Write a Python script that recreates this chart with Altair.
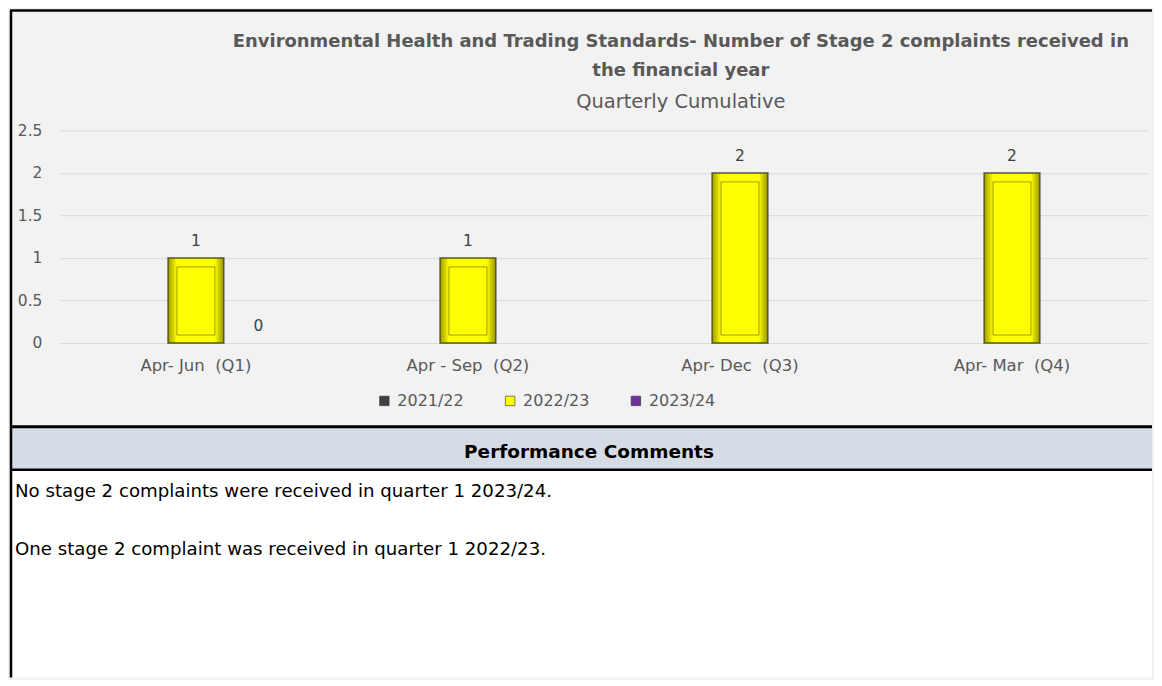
import altair as alt
import pandas as pd

# ---------------- data ----------------
quarters = ["Apr- Jun  (Q1)", "Apr - Sep  (Q2)", "Apr- Dec  (Q3)", "Apr- Mar  (Q4)"]
series = ["2021/22", "2022/23", "2023/24"]
values_2021_22 = [None, None, None, None]
values_2022_23 = [1, 1, 2, 2]
values_2023_24 = [0, None, None, None]
series_colors = ["#404040", "#ffff00", "#7030a0"]
y_ticks = [0, 0.5, 1, 1.5, 2, 2.5]

title_lines = [
    "Environmental Health and Trading Standards- Number of Stage 2 complaints received in",
    "the financial year",
]
subtitle = "Quarterly Cumulative"
comments_header = "Performance Comments"
comments = [
    "No stage 2 complaints were received in quarter 1 2023/24.",
    "One stage 2 complaint was received in quarter 1 2022/23.",
]

rows = []
for s, vals in zip(series, [values_2021_22, values_2022_23, values_2023_24]):
    for q, v in zip(quarters, vals):
        rows.append({"quarter": q, "series": s, "value": v})
df = pd.DataFrame(rows)

FONT = "DejaVu Sans"
GREY = "#595959"
W, H = 1090, 213
PX_PER_UNIT = H / 2.5

# ---------------- encodings ----------------
x_enc = alt.X(
    "quarter:N",
    sort=quarters,
    scale=alt.Scale(paddingInner=0, paddingOuter=0),
    axis=alt.Axis(
        title=None, labelAngle=0, ticks=False, domain=False, grid=False,
        labelFontSize=16.5, labelColor=GREY, labelFont=FONT, labelPadding=15,
        labelExpr="replace(datum.label, '  ', ' \u00a0')",
    ),
)
xoff_enc = alt.XOffset(
    "series:N", sort=series,
    scale=alt.Scale(domain=series, paddingInner=0.111, paddingOuter=0.728),
)
y_scale = alt.Scale(domain=[0, 2.5], nice=False, zero=True)
y_enc = alt.Y(
    "value:Q",
    scale=y_scale,
    axis=alt.Axis(
        title=None, values=y_ticks, format="~g", ticks=False, domain=False,
        gridColor="#d9d9d9", gridWidth=1, labelFontSize=15.5, labelColor=GREY,
        labelFont=FONT, labelPadding=18,
    ),
)
color_enc = alt.Color(
    "series:N",
    scale=alt.Scale(domain=series, range=series_colors),
    legend=alt.Legend(
        title=None, orient="none", legendX=317, legendY=263, direction="horizontal",
        symbolType="square", symbolSize=90, symbolStrokeColor="#333333",
        symbolStrokeWidth=0.6, labelFontSize=16, labelColor=GREY, labelFont=FONT,
        labelOffset=5, columnPadding=38,
    ),
)

base = alt.Chart(df)

outer_bar = base.transform_filter("datum.value > 0").mark_bar(
    stroke="rgba(0,0,0,0.65)", strokeWidth=1.5
).encode(x=x_enc, xOffset=xoff_enc, y=y_enc, color=color_enc)

shade = base.transform_filter("datum.value > 0").mark_bar(
    fill=alt.LinearGradient(
        gradient="linear", x1=0, x2=1, y1=0, y2=0,
        stops=[
            alt.GradientStop(color="rgba(90,90,0,0.6)", offset=0),
            alt.GradientStop(color="rgba(90,90,0,0.0)", offset=0.16),
            alt.GradientStop(color="rgba(90,90,0,0.0)", offset=0.84),
            alt.GradientStop(color="rgba(90,90,0,0.65)", offset=1),
        ],
    ),
    strokeWidth=0,
).encode(x=x_enc, xOffset=xoff_enc, y=y_enc)

# inner bevel face: inset from the bar's own top and baseline
inner_bar = base.transform_filter("datum.value > 0").transform_calculate(
    inner_top=f"datum.value - 9 / {PX_PER_UNIT}",
    inner_bottom=f"8 / {PX_PER_UNIT}",
).mark_bar(
    size=38, stroke="rgba(80,80,0,0.55)", strokeWidth=1,
).encode(
    x=x_enc, xOffset=xoff_enc,
    y=alt.Y("inner_top:Q", scale=y_scale),
    y2="inner_bottom:Q",
    color=color_enc,
)

labels = base.transform_filter("isValid(datum.value)").mark_text(
    font=FONT, fontSize=15.5, color="#404040", dy=-17, baseline="middle"
).encode(x=x_enc, xOffset=xoff_enc, y=y_enc, text=alt.Text("value:Q", format="~g"))

# ---------------- page furniture ----------------
one = alt.Data(values=[{}])


def txt(text, x, y, size, weight="normal", color=GREY, align="center"):
    return alt.Chart(one).mark_text(
        font=FONT, fontSize=size, fontWeight=weight, color=color,
        align=align, baseline="middle",
    ).encode(x=alt.value(x), y=alt.value(y), text=alt.value(text))


def rect(x1, x2, y1, y2, fill):
    return alt.Chart(one).mark_rect(fill=fill, strokeWidth=0).encode(
        x=alt.value(x1), x2=alt.value(x2), y=alt.value(y1), y2=alt.value(y2)
    )


def rule(x1, x2, y1, y2, w=2.5, color="#000000"):
    return alt.Chart(one).mark_rule(color=color, strokeWidth=w).encode(
        x=alt.value(x1), x2=alt.value(x2), y=alt.value(y1), y2=alt.value(y2)
    )


L, R, B = -50, 1094, 548

furniture = [
    rect(L, R, 298, 340, "#d6dce5"),
    rect(L, R, 340, B, "#ffffff"),
    rule(L, R, -120, -120),
    rule(L, R, 297, 297, 3),
    rule(L, R, 340, 340, 2.5),
    rule(L + 1, L + 1, -120, B, 2.5),
    txt(title_lines[0], 622, -89, 18, "bold"),
    txt(title_lines[1], 622, -59, 18, "bold"),
    txt(subtitle, 622, -28, 19.5),
    txt(comments_header, 530, 322, 18.5, "bold", "#000000"),
    txt(comments[0], -45, 362, 18.2, color="#000000", align="left"),
    txt(comments[1], -45, 420, 18.2, color="#000000", align="left"),
]

chart = alt.layer(
    outer_bar, shade, inner_bar, labels, *furniture
).properties(
    width=W, height=H, padding=0, background="#f2f2f2"
).configure_view(stroke=None)

chart.save("out.html", embed_options={"renderer": "svg", "actions": False})
